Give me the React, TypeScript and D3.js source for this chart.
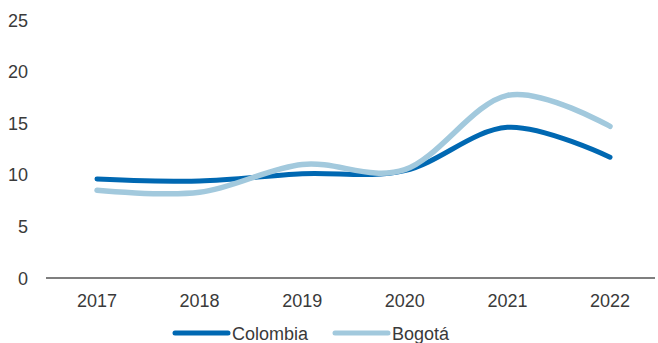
import React from "react";
import * as d3 from "d3";

const years = ["2017", "2018", "2019", "2020", "2021", "2022"];
const colombia = [9.6, 9.4, 10.1, 10.4, 14.6, 11.7];
const bogota = [8.5, 8.3, 11.0, 10.5, 17.7, 14.7];
const yTicks = [0, 5, 10, 15, 20, 25];

const W = 658;
const H = 343;
const FONT = "'Liberation Sans Narrow', 'Arial Narrow', 'Liberation Sans', sans-serif";

export default function App() {
  const x = d3.scalePoint<string>().domain(years).range([97, 610]);
  const y = d3.scaleLinear().domain([0, 25]).range([278, 20]);
  const line = d3
    .line<number>()
    .x((_, i) => x(years[i]) as number)
    .y((d) => y(d))
    .curve(d3.curveCardinal.tension(0));

  const series = [
    { name: "Colombia", values: colombia, color: "#0068b2", lx: 173, width: 5 },
    { name: "Bogotá", values: bogota, color: "#a2c9dd", lx: 333, width: 5.5 },
  ];

  return (
    <svg width={W} height={H} style={{ position: "absolute", left: 0, top: 0 }}>
      <rect width={W} height={H} fill="#fff" />
      {yTicks.map((t) => (
        <text key={t} x={28} y={y(t) + 6.5} textAnchor="end" fontFamily={FONT} fontSize={18} fill="#3a3a3a">
          {t}
        </text>
      ))}
      <line x1={46} x2={655} y1={y(0)} y2={y(0)} stroke="#000" strokeWidth={1.2} />
      {years.map((yr) => (
        <text key={yr} x={x(yr)} y={307} textAnchor="middle" fontFamily={FONT} fontSize={18} fill="#3a3a3a">
          {yr}
        </text>
      ))}
      {series.map((s) => (
        <path
          key={s.name}
          d={line(s.values) || ""}
          fill="none"
          stroke={s.color}
          strokeWidth={s.width}
          strokeLinecap="round"
        />
      ))}
      {series.map((s) => (
        <g key={s.name + "-leg"}>
          <line x1={s.lx + 2} x2={s.lx + 55} y1={333} y2={333} stroke={s.color} strokeWidth={5} strokeLinecap="round" />
          <text x={s.lx + 59} y={339.5} fontFamily={FONT} fontSize={18} fill="#3a3a3a">
            {s.name}
          </text>
        </g>
      ))}
    </svg>
  );
}
